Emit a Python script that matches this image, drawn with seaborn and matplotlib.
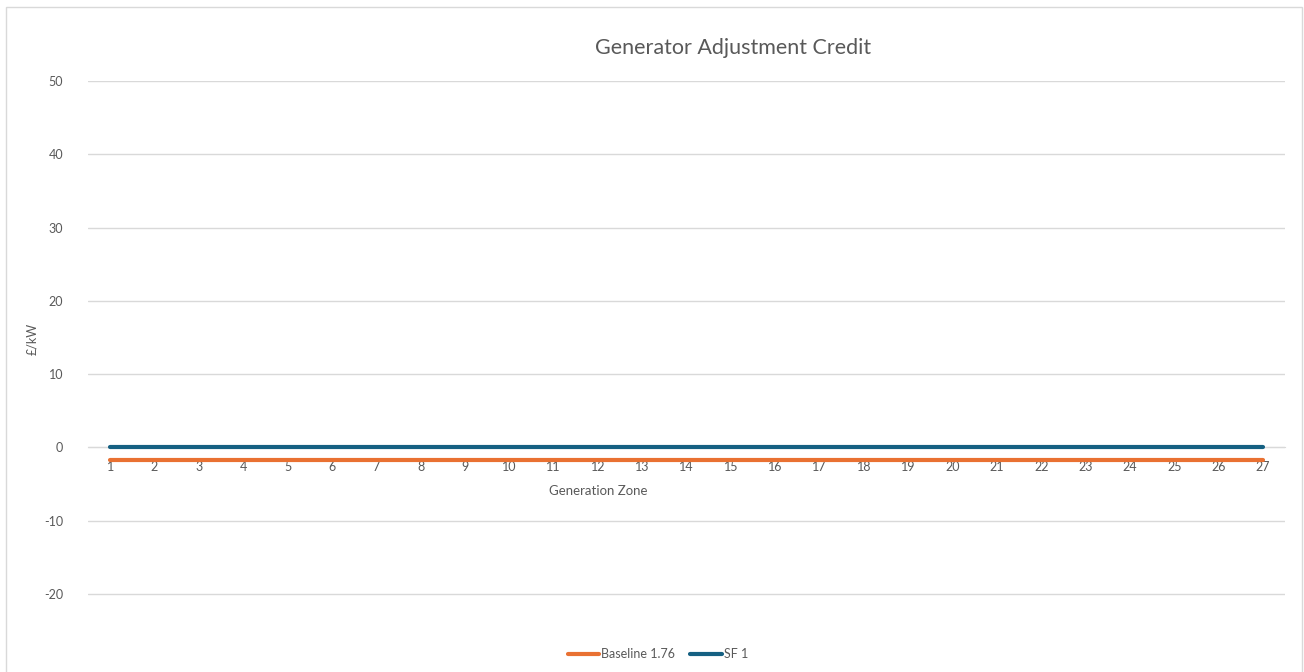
import numpy as np
import pandas as pd
import matplotlib
matplotlib.use('Agg')
import matplotlib.pyplot as plt
import seaborn as sns
from matplotlib.patches import Rectangle
from matplotlib.lines import Line2D

# data
zones = list(range(1, 28))
baseline = [-1.8] * 27   # Baseline 1.76
sf1 = [0.0] * 27         # SF 1

df = pd.DataFrame({
    'Zone': zones * 2,
    'Value': baseline + sf1,
    'Series': ['Baseline 1.76'] * 27 + ['SF 1'] * 27,
})

sns.set_style('white')
plt.rcParams['font.family'] = ['Lato', 'DejaVu Sans']
plt.rcParams['axes.unicode_minus'] = False
grey = '#595959'

fig = plt.figure(figsize=(13.04, 6.72), dpi=100)
ax = fig.add_axes([88/1304, 1-596/672, (1285-88)/1304, (596-81)/672])

sns.lineplot(data=df, x='Zone', y='Value', hue='Series',
             palette={'Baseline 1.76': '#E97132', 'SF 1': '#156082'},
             linewidth=3, ax=ax, legend=False)

ax.set_xlim(0.5, 27.5)
ax.set_ylim(-20.3, 50)
ax.set_yticks(range(-20, 51, 10))
ax.set_xticks(zones)
ax.grid(axis='y', color='#D9D9D9', linewidth=1)
ax.set_axisbelow(True)
for s in ['top', 'right', 'left']:
    ax.spines[s].set_visible(False)
ax.spines['bottom'].set_position(('data', 0))
ax.spines['bottom'].set_color('#D9D9D9')
ax.spines['bottom'].set_zorder(0)
ax.tick_params(axis='x', length=0, pad=10, labelsize=9, labelcolor=grey)
ax.tick_params(axis='y', length=0, pad=18, labelsize=9, labelcolor=grey)
ax.set_xlabel('')
ax.set_ylabel('£/kW', color=grey, fontsize=9)
ax.yaxis.set_label_coords((38-88)/(1285-88), 0.5)

fig.text(733/1304, 1-48/672, 'Generator Adjustment Credit', ha='center', va='center',
         fontsize=15.5, color=grey)
fig.text(598/1304, 1-491/672, 'Generation Zone', ha='center', va='center',
         fontsize=9.5, color=grey)

# legend
handles = [Line2D([], [], color='#E97132', linewidth=3),
           Line2D([], [], color='#156082', linewidth=3)]
fig.legend(handles, ['Baseline 1.76', 'SF 1'], loc='center', ncol=2,
           bbox_to_anchor=(658/1304, 1-654/672), frameon=False, fontsize=9,
           labelcolor=grey, handlelength=2.5, handletextpad=0.2, columnspacing=1.2)

# chart border
fig.patches.append(Rectangle((6/1304, -0.01), (1302-6)/1304, (672-7)/672 + 0.01,
                             transform=fig.transFigure, fill=False,
                             edgecolor='#D9D9D9', linewidth=1))

fig.savefig('out.png', dpi=100)
